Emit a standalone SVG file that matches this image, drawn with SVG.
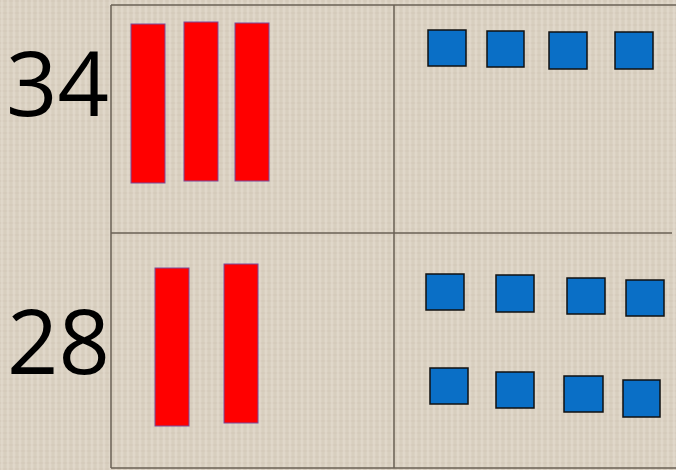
<svg xmlns="http://www.w3.org/2000/svg" width="676" height="470" viewBox="0 0 676 470">
<defs>
<pattern id="linen" width="6" height="6" patternUnits="userSpaceOnUse">
<rect width="6" height="6" fill="#dbd2c3"/>
<line x1="0" y1="1" x2="6" y2="1" stroke="#cdc3b2" stroke-width="0.6"/>
<line x1="2" y1="0" x2="2" y2="6" stroke="#e8e0d3" stroke-width="0.8"/>
<line x1="5" y1="0" x2="5" y2="6" stroke="#ccc2b1" stroke-width="0.4"/>
</pattern>
</defs>
<style>
.grid{stroke:#6a6154;stroke-width:1.5;fill:none}
.ten{fill:#ff0000;stroke:#7b4a9a;stroke-width:1}
.one{fill:#0a6fc6;stroke:#111;stroke-width:1.5}
.num{font-family:"Open Sans","Liberation Sans",Arial,sans-serif;font-size:90px;fill:#000}
</style>
<rect width="676" height="470" fill="url(#linen)"/>
<g id="connectors">
<line class="grid" x1="111" y1="5" x2="676" y2="5"/>
<line class="grid" x1="111" y1="233" x2="672" y2="233"/>
<line class="grid" x1="111" y1="468" x2="676" y2="468"/>
<line class="grid" x1="111" y1="5" x2="111" y2="468"/>
<line class="grid" x1="394" y1="5" x2="394" y2="468"/>
</g>
<g id="label34"><text class="num" x="6" y="116">34</text></g>
<g id="label28"><text class="num" x="7" y="374">28</text></g>
<g id="tens34">
<rect class="ten" x="131" y="24" width="34" height="159"/>
<rect class="ten" x="184" y="22" width="34" height="159"/>
<rect class="ten" x="235" y="23" width="34" height="158"/>
</g>
<g id="ones34">
<rect class="one" x="428" y="30" width="38" height="36"/>
<rect class="one" x="487" y="31" width="37" height="36"/>
<rect class="one" x="549" y="32" width="38" height="37"/>
<rect class="one" x="615" y="32" width="38" height="37"/>
</g>
<g id="tens28">
<rect class="ten" x="155" y="268" width="34" height="158"/>
<rect class="ten" x="224" y="264" width="34" height="159"/>
</g>
<g id="ones28">
<rect class="one" x="426" y="274" width="38" height="36"/>
<rect class="one" x="496" y="275" width="38" height="37"/>
<rect class="one" x="567" y="278" width="38" height="36"/>
<rect class="one" x="626" y="280" width="38" height="36"/>
<rect class="one" x="430" y="368" width="38" height="36"/>
<rect class="one" x="496" y="372" width="38" height="36"/>
<rect class="one" x="564" y="376" width="39" height="36"/>
<rect class="one" x="623" y="380" width="37" height="37"/>
</g>
</svg>
